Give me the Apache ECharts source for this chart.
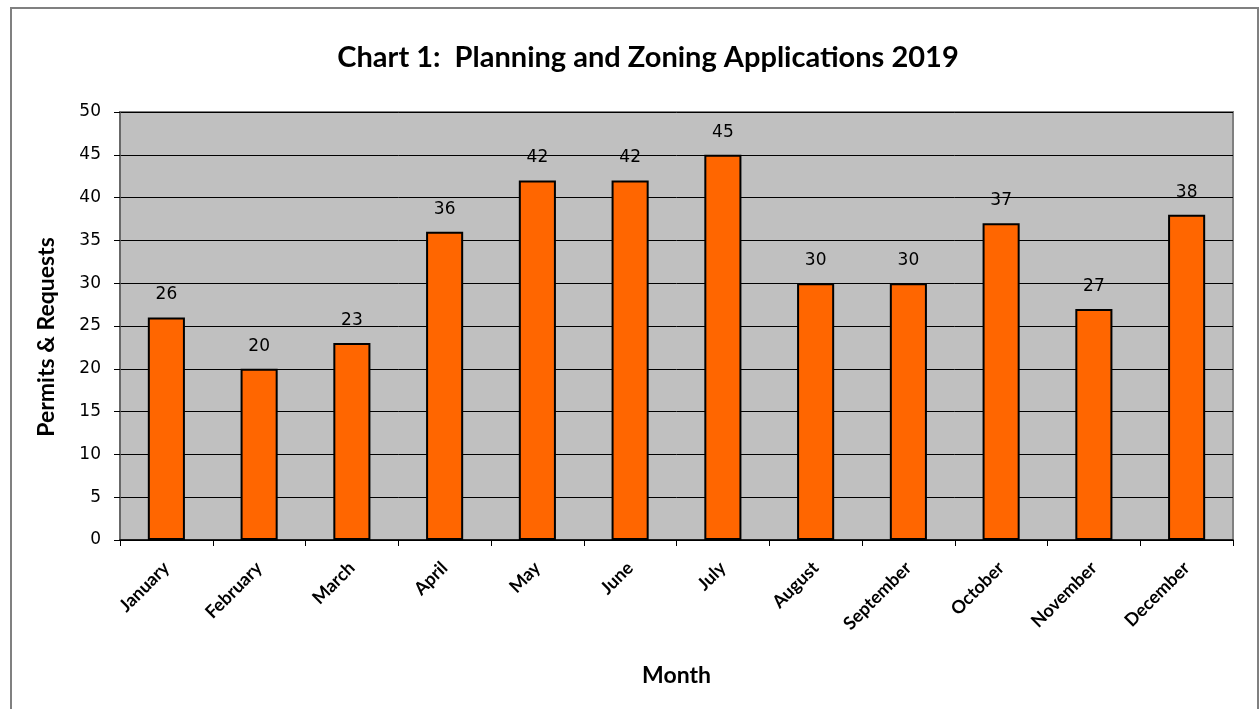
<!DOCTYPE html>
<html>
<head>
<meta charset="utf-8">
<script src="https://cdn.jsdelivr.net/npm/echarts@6/dist/echarts.min.js"></script>
<style>
html,body{margin:0;padding:0;background:#fff;}
#chart{width:1259px;height:709px;}
</style>
</head>
<body>
<div id="chart"></div>
<script>
const months = ['January','February','March','April','May','June','July','August','September','October','November','December'];
const permits = [26,20,23,36,42,42,45,30,30,37,27,38];
const yTicks = [0,5,10,15,20,25,30,35,40,45,50];
const yAxisTitle = 'Permits & Requests';

const chart = echarts.init(document.getElementById('chart'));
chart.setOption({
  animation:false,
  backgroundColor:'#ffffff',
  title:{
    text:'Chart 1:  Planning and Zoning Applications 2019',
    left:643, top:38, textAlign:'center',
    textStyle:{fontFamily:'Lato', fontWeight:'bold', fontSize:29, color:'#000'}
  },
  graphic:[{
    type:'rect', shape:{x:11,y:8,width:1247,height:720},
    style:{fill:null, stroke:'#808080', lineWidth:2}, silent:true, z:-1
  },{
    type:'text', x:47, y:337, rotation:Math.PI/2,
    style:{text:yAxisTitle, fontFamily:'Lato', fontWeight:'bold', fontSize:23, fill:'#000', align:'center', verticalAlign:'middle'},
    silent:true
  }],
  grid:{
    left:120, right:26, top:112, bottom:169,
    show:true, backgroundColor:'#C0C0C0', borderColor:'#808080', borderWidth:2
  },
  xAxis:{
    type:'category', data:months,
    name:'Month', nameLocation:'middle', nameGap:124,
    nameTextStyle:{fontFamily:'Lato', fontWeight:'bold', fontSize:23, color:'#000'},
    axisLine:{show:true, lineStyle:{color:'#000', width:1.5}},
    axisTick:{show:true, alignWithLabel:false, length:6, lineStyle:{color:'#000'}},
    axisLabel:{rotate:45, fontFamily:'Lato', fontWeight:'bold', fontSize:18, color:'#000', margin:25, interval:0}
  },
  yAxis:{
    type:'value', min:yTicks[0], max:yTicks[yTicks.length-1], interval:5,
    axisLine:{show:true, lineStyle:{color:'#606060', width:1.5}},
    axisTick:{show:true, length:6, lineStyle:{color:'#000'}},
    axisLabel:{fontFamily:'DejaVu Sans', fontSize:17, color:'#000', margin:19},
    splitLine:{show:true, lineStyle:{color:'#000', width:1}}
  },
  series:[{
    type:'bar', data:permits, barWidth:'40%',
    itemStyle:{color:'#FF6600', borderColor:'#000', borderWidth:2},
    label:{show:true, position:'top', distance:14, fontFamily:'DejaVu Sans', fontSize:17, color:'#000'}
  }]
});
</script>
</body>
</html>
